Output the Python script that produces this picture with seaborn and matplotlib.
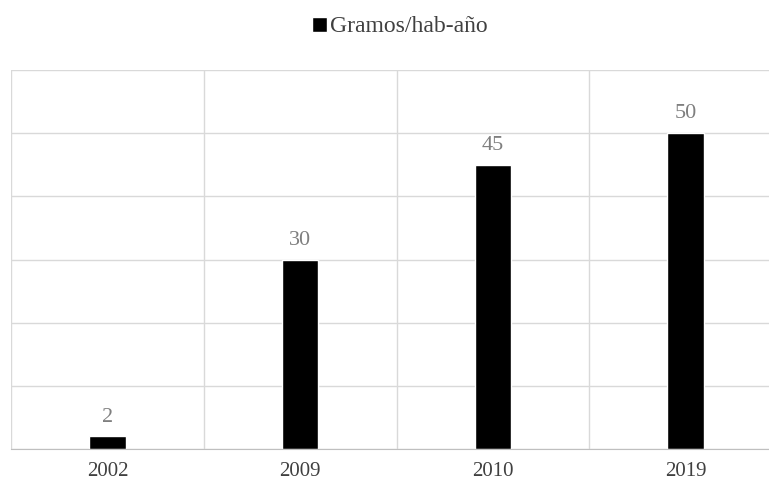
import matplotlib
matplotlib.use('Agg')
import seaborn as sns
import matplotlib.pyplot as plt
import pandas as pd

# Data
years = ['2002', '2009', '2010', '2019']
grams = [2, 30, 45, 50]
series_name = 'Gramos/hab-año'

df = pd.DataFrame({'Año': years, 'Gramos': grams})

sns.set_style('white')
plt.rcParams['font.family'] = ['Liberation Serif', 'DejaVu Serif']

fig = plt.figure(figsize=(7.69, 4.83), dpi=100)
# plot area runs off the right edge, as in the reference
ax = fig.add_axes([11 / 769, 1 - 449 / 483, 771 / 769, 379 / 483])

sns.barplot(data=df, x='Año', y='Gramos', color='black', width=0.19,
            saturation=1, ax=ax, label=series_name)

ax.set_ylim(0, 60)
ax.set_xlim(-0.5, 3.5)
ax.set_yticks(range(0, 61, 10))
ax.set_yticklabels([])
ax.tick_params(axis='y', length=0)
ax.set_xticks(range(len(years)))
ax.set_xticklabels(years)
ax.set_xticks([i + 0.5 for i in range(-1, len(years))], minor=True)
ax.tick_params(axis='x', which='both', length=0, labelsize=15,
               labelcolor='#404040', pad=9)
ax.grid(axis='y', which='major', color='#d9d9d9', linewidth=1)
ax.grid(axis='x', which='minor', color='#d9d9d9', linewidth=1)
ax.grid(axis='x', which='major', visible=False)
ax.set_axisbelow(True)
ax.set_xlabel('')
ax.set_ylabel('')
for side in ['top', 'right', 'left']:
    ax.spines[side].set_visible(False)
ax.spines['bottom'].set_color('#bfbfbf')

ax.bar_label(ax.containers[0], labels=[str(v) for v in grams], padding=7,
             fontsize=16, color='#7f7f7f')

ax.legend(loc='center', bbox_to_anchor=(389 / 771, 1 + 43 / 379),
          frameon=False, fontsize=17, handlelength=0.6, handleheight=0.6,
          handletextpad=0.15, labelcolor='#404040', borderpad=0)

fig.savefig('out.png', dpi=100)
